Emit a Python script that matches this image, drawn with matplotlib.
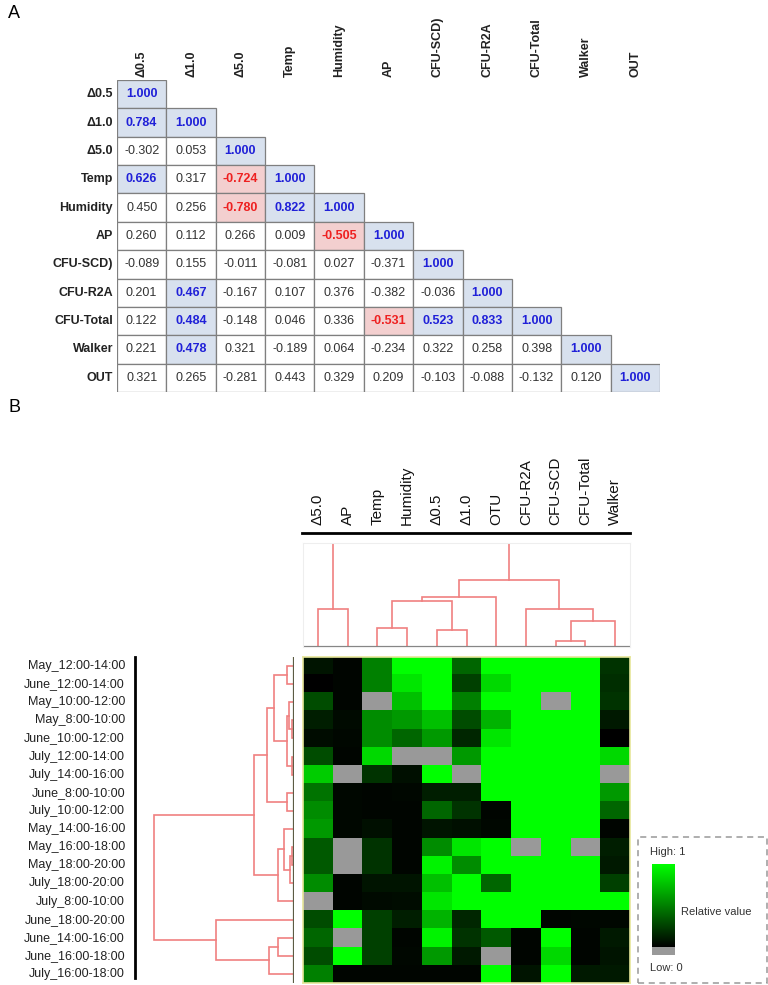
import numpy as np
import matplotlib
matplotlib.use("Agg")
import matplotlib.pyplot as plt
from matplotlib.colors import LinearSegmentedColormap, Normalize
from matplotlib.patches import Rectangle
from matplotlib import transforms
from matplotlib.cm import ScalarMappable

plt.rcParams["font.family"] = ["Liberation Sans", "DejaVu Sans"]

W, H = 768, 985

# ── Panel A: correlation matrix (lower triangle) ─────────────────────────────
corr_labels = ["Δ0.5", "Δ1.0", "Δ5.0", "Temp", "Humidity", "AP",
               "CFU-SCD)", "CFU-R2A", "CFU-Total", "Walker", "OUT"]
corr_rows = [
    [1.000],
    [0.784, 1.000],
    [-0.302, 0.053, 1.000],
    [0.626, 0.317, -0.724, 1.000],
    [0.450, 0.256, -0.780, 0.822, 1.000],
    [0.260, 0.112, 0.266, 0.009, -0.505, 1.000],
    [-0.089, 0.155, -0.011, -0.081, 0.027, -0.371, 1.000],
    [0.201, 0.467, -0.167, 0.107, 0.376, -0.382, -0.036, 1.000],
    [0.122, 0.484, -0.148, 0.046, 0.336, -0.531, 0.523, 0.833, 1.000],
    [0.221, 0.478, 0.321, -0.189, 0.064, -0.234, 0.322, 0.258, 0.398, 1.000],
    [0.321, 0.265, -0.281, 0.443, 0.329, 0.209, -0.103, -0.088, -0.132, 0.120, 1.000],
]
sig_level = 0.46

# ── Panel B: clustered heatmap ───────────────────────────────────────────────
hm_cols = ["Δ5.0", "AP", "Temp", "Humidity", "Δ0.5", "Δ1.0", "OTU",
           "CFU-R2A", "CFU-SCD", "CFU-Total", "Walker"]
hm_rows = ["May_12:00-14:00", "June_12:00-14:00", "May_10:00-12:00",
           "May_8:00-10:00", "June_10:00-12:00", "July_12:00-14:00",
           "July_14:00-16:00", "June_8:00-10:00", "July_10:00-12:00",
           "May_14:00-16:00", "May_16:00-18:00", "May_18:00-20:00",
           "July_18:00-20:00", "July_8:00-10:00", "June_18:00-20:00",
           "June_14:00-16:00", "June_16:00-18:00", "July_16:00-18:00"]
nan = np.nan
hm_values = [
    [0.08, 0.02, 0.50, 1.00, 1.00, 0.40, 1.00, 1.00, 1.00, 1.00, 0.20],
    [0.00, 0.02, 0.50, 0.90, 1.00, 0.25, 0.85, 1.00, 1.00, 1.00, 0.18],
    [0.30, 0.02, nan, 0.75, 1.00, 0.50, 1.00, 1.00, nan, 1.00, 0.20],
    [0.12, 0.04, 0.55, 0.60, 0.75, 0.30, 0.70, 1.00, 1.00, 1.00, 0.10],
    [0.05, 0.03, 0.55, 0.40, 0.60, 0.15, 0.90, 1.00, 1.00, 1.00, 0.00],
    [0.30, 0.02, 0.85, nan, nan, 0.60, 1.00, 1.00, 1.00, 1.00, 0.85],
    [0.80, nan, 0.20, 0.06, 1.00, nan, 1.00, 1.00, 1.00, 1.00, nan],
    [0.45, 0.03, 0.02, 0.03, 0.12, 0.12, 1.00, 1.00, 1.00, 1.00, 0.60],
    [0.55, 0.03, 0.02, 0.02, 0.40, 0.20, 0.02, 1.00, 1.00, 1.00, 0.40],
    [0.60, 0.03, 0.06, 0.02, 0.08, 0.06, 0.03, 1.00, 1.00, 1.00, 0.02],
    [0.35, nan, 0.20, 0.02, 0.55, 0.90, 1.00, nan, 1.00, nan, 0.12],
    [0.35, nan, 0.20, 0.02, 0.95, 0.55, 1.00, 1.00, 1.00, 1.00, 0.10],
    [0.55, 0.02, 0.08, 0.08, 0.75, 1.00, 0.40, 1.00, 1.00, 1.00, 0.25],
    [nan, 0.02, 0.04, 0.05, 0.90, 1.00, 1.00, 1.00, 1.00, 1.00, 1.00],
    [0.30, 1.00, 0.25, 0.12, 0.70, 0.15, 1.00, 1.00, 0.02, 0.03, 0.03],
    [0.40, nan, 0.25, 0.02, 0.95, 0.20, 0.35, 0.02, 1.00, 0.02, 0.10],
    [0.30, 1.00, 0.25, 0.03, 0.60, 0.10, nan, 0.02, 0.85, 0.02, 0.08],
    [0.50, 0.02, 0.02, 0.02, 0.02, 0.02, 1.00, 0.08, 1.00, 0.10, 0.10],
]

# dendrogram merges: (child_a, child_b, height); new node ids follow the leaves
col_merges = [
    (0, 1, 114), (2, 3, 57), (4, 5, 50), (12, 13, 139), (14, 6, 150),
    (8, 9, 19), (16, 10, 77), (7, 17, 114), (15, 18, 201), (11, 19, 314),
]
row_merges = [
    (0, 1, 6), (3, 4, 1.5), (2, 19, 4), (5, 6, 1.5), (20, 21, 6),
    (18, 22, 19), (7, 8, 6), (23, 24, 26.7), (10, 11, 1.5), (26, 12, 3.3),
    (9, 27, 9), (28, 13, 15.7), (25, 29, 39.3), (15, 16, 15.7), (31, 17, 24),
    (14, 32, 77), (30, 33, 139),
]

fig = plt.figure(figsize=(W / 100, H / 100), dpi=100)


def px_axes(x0, y0, x1, y1):
    return fig.add_axes([x0 / W, 1 - y1 / H, (x1 - x0) / W, (y1 - y0) / H])


def draw_dendro(ax, merges, n_leaves, vertical, color="#f08080"):
    pos = {i: float(i) for i in range(n_leaves)}
    hgt = {i: 0.0 for i in range(n_leaves)}
    for k, (a, b, h) in enumerate(merges):
        xs = [pos[a], pos[a], pos[b], pos[b]]
        hs = [hgt[a], h, h, hgt[b]]
        if vertical:
            ax.plot(xs, hs, color=color, lw=1.2, solid_joinstyle="miter")
        else:
            ax.plot(hs, xs, color=color, lw=1.2, solid_joinstyle="miter")
        pos[n_leaves + k] = (pos[a] + pos[b]) / 2
        hgt[n_leaves + k] = h


fig.text(8 / W, 1 - 14 / H, "A", fontsize=13, va="center", ha="left")
fig.text(8 / W, 1 - 408 / H, "B", fontsize=13, va="center", ha="left")

# ── Panel A ──────────────────────────────────────────────────────────────────
n = len(corr_labels)
axA = px_axes(117, 80, 660, 392)
axA.set_xlim(0, n)
axA.set_ylim(n, 0)
axA.axis("off")
for i, row in enumerate(corr_rows):
    for j, r in enumerate(row):
        if r >= sig_level:
            face, tc, fw = "#d8e1ee", "#2020d8", "bold"
        elif r <= -sig_level:
            face, tc, fw = "#f3cfcf", "#ee2020", "bold"
        else:
            face, tc, fw = "white", "#333333", "normal"
        axA.add_patch(Rectangle((j, i), 1, 1, facecolor=face,
                                edgecolor="#7f7f7f", lw=0.9))
        axA.text(j + 0.5, i + 0.5, f"{r:.3f}", ha="center", va="center",
                 fontsize=9, color=tc, fontweight=fw)
for k, lab in enumerate(corr_labels):
    axA.text(k + 0.5, -0.12, lab, rotation=90, ha="center", va="bottom",
             fontsize=9, fontweight="bold", color="#222222")
    axA.text(-0.08, k + 0.5, lab, ha="right", va="center",
             fontsize=9, fontweight="bold", color="#222222")

# ── Panel B: heatmap ─────────────────────────────────────────────────────────
nr, nc = len(hm_rows), len(hm_cols)
cmap = LinearSegmentedColormap.from_list("bg", ["#000000", "#00ff00"])
cmap.set_bad("#999999")

ax_hm = px_axes(303, 657, 630, 983)
ax_hm.imshow(np.ma.masked_invalid(np.array(hm_values)), cmap=cmap,
             vmin=0, vmax=1, aspect="auto", interpolation="nearest")
ax_hm.set_xticks([])
ax_hm.set_yticks([])
for s in ax_hm.spines.values():
    s.set_color("#e6e69a")
    s.set_linewidth(1.2)

# row labels, placed at the heatmap's row positions
tr = transforms.blended_transform_factory(fig.transFigure, ax_hm.transData)
for i, lab in enumerate(hm_rows):
    ax_hm.text(125 / W, i, lab, transform=tr, ha="right", va="center",
               fontsize=9, color="#222222")
fig.add_artist(plt.Line2D([135 / W, 135 / W], [1 - 657 / H, 1 - 978 / H],
                          color="black", lw=2, transform=fig.transFigure))

# column labels
ax_lab = px_axes(303, 420, 630, 533)
ax_lab.set_xlim(-0.5, nc - 0.5)
ax_lab.set_ylim(0, 1)
ax_lab.axis("off")
for j, lab in enumerate(hm_cols):
    ax_lab.text(j, 0.07, lab, rotation=90, ha="center", va="bottom",
                fontsize=11, color="#111111")
ax_lab.plot([-0.55, nc - 0.5], [0, 0], color="black", lw=2, clip_on=False)

# column dendrogram
ax_cd = px_axes(303, 543, 630, 647)
ax_cd.set_xlim(-0.5, nc - 0.5)
ax_cd.set_ylim(0, 314)
draw_dendro(ax_cd, col_merges, nc, vertical=True)
ax_cd.axhline(0, color="#808080", lw=1.6)
ax_cd.set_xticks([])
ax_cd.set_yticks([])
for s in ax_cd.spines.values():
    s.set_color("#eeeeee")

# row dendrogram
ax_rd = px_axes(153, 657, 293.5, 983)
ax_rd.set_ylim(nr - 0.5, -0.5)
ax_rd.set_xlim(140, 0)
draw_dendro(ax_rd, row_merges, nr, vertical=False)
ax_rd.axvline(0, color="#5c5c44", lw=1.6)
ax_rd.set_xticks([])
ax_rd.set_yticks([])
for s in ax_rd.spines.values():
    s.set_visible(False)

# ── legend ───────────────────────────────────────────────────────────────────
fig.add_artist(Rectangle((638 / W, 1 - 983 / H), 129 / W, 146 / H,
                         transform=fig.transFigure, fill=False,
                         edgecolor="#999999", lw=1.1, linestyle=(0, (4, 3))))
cax = px_axes(652, 864, 675, 947)
cb = fig.colorbar(ScalarMappable(norm=Normalize(0, 1), cmap=cmap), cax=cax)
cb.outline.set_visible(False)
cb.set_ticks([])
ax_na = px_axes(652, 947, 675, 955)
ax_na.set_facecolor("#999999")
ax_na.set_xticks([])
ax_na.set_yticks([])
for s in ax_na.spines.values():
    s.set_visible(False)
fig.text(650 / W, 1 - 852 / H, "High: 1", fontsize=8, va="center", color="#333333")
fig.text(681 / W, 1 - 912 / H, "Relative value", fontsize=8, va="center", color="#333333")
fig.text(650 / W, 1 - 968 / H, "Low: 0", fontsize=8, va="center", color="#333333")

fig.savefig("out.png", dpi=100)
